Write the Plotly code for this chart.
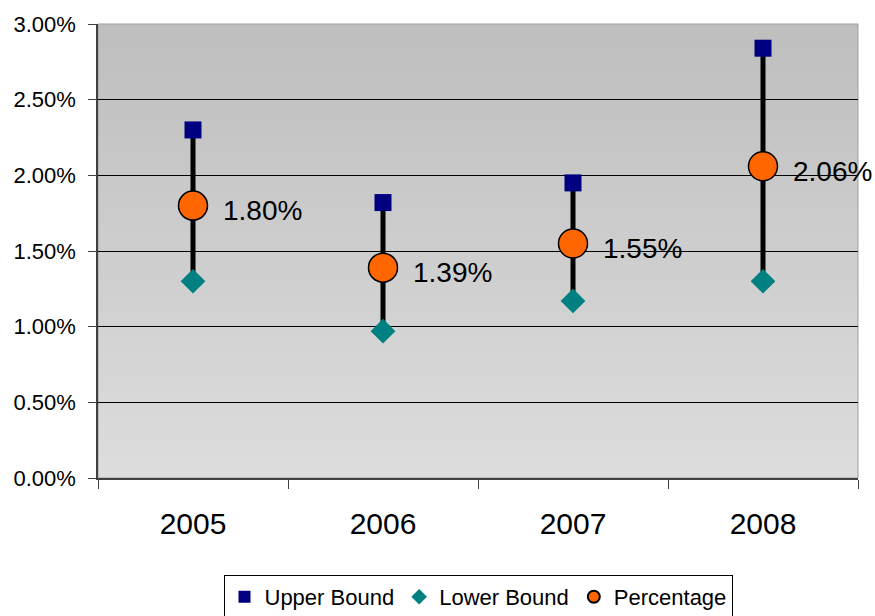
import plotly.graph_objects as go

years = ["2005", "2006", "2007", "2008"]
upper = [2.30, 1.82, 1.95, 2.84]
lower = [1.30, 0.97, 1.17, 1.30]
percentage = [1.80, 1.39, 1.55, 2.06]
y_ticks = [0, 0.5, 1.0, 1.5, 2.0, 2.5, 3.0]

FONT = "Liberation Sans, Arial, sans-serif"

fig = go.Figure()

# vertical range lines
lx, ly = [], []
for yr, lo, hi in zip(years, lower, upper):
    lx += [yr, yr, None]
    ly += [lo, hi, None]
fig.add_trace(go.Scatter(x=lx, y=ly, mode="lines", line=dict(color="black", width=5),
                         showlegend=False, hoverinfo="skip"))

fig.add_trace(go.Scatter(x=years, y=upper, mode="markers", name="Upper Bound",
                         marker=dict(symbol="square", size=17, color="#000080",
                                     line=dict(width=0))))
fig.add_trace(go.Scatter(x=years, y=lower, mode="markers", name="Lower Bound",
                         marker=dict(symbol="diamond", size=19, color="#008080",
                                     line=dict(width=0))))
fig.add_trace(go.Scatter(x=years, y=percentage, mode="markers", name="Percentage",
                         marker=dict(symbol="circle", size=29, color="#FF6600",
                                     line=dict(width=1.5, color="black"))))

for i, p in enumerate(percentage):
    fig.add_annotation(x=i, y=p, xref="x", yref="y", text=f"{p:.2f}%", showarrow=False,
                       xanchor="left", yanchor="middle", xshift=28, yshift=-5,
                       font=dict(size=28, color="black", family=FONT))

# gradient background (stacked bands, no seams)
n = 60
top = (190, 190, 190)
bot = (221, 221, 221)
for i in range(n):
    t = i / (n - 1)
    c = tuple(round(top[k] + (bot[k] - top[k]) * t) for k in range(3))
    fig.add_shape(type="rect", xref="x domain", yref="y domain",
                  x0=0, x1=1, y0=0, y1=1 - i / n,
                  fillcolor=f"rgb{c}", line=dict(width=0), layer="below")
fig.add_shape(type="rect", xref="x domain", yref="y domain", x0=0, x1=1, y0=0, y1=1,
              line=dict(color="#a0a0a0", width=1), layer="below")

fig.update_layout(
    width=875, height=616,
    margin=dict(l=98, r=17, t=20, b=138),
    paper_bgcolor="white", plot_bgcolor="rgba(0,0,0,0)",
    font=dict(family=FONT, color="black"),
    showlegend=True,
    legend=dict(orientation="h", x=0.5, xanchor="center",
                yref="container", y=0.0666, yanchor="top",
                bordercolor="black", borderwidth=1, bgcolor="white",
                font=dict(size=22, family=FONT), itemsizing="constant",
                tracegroupgap=0, itemwidth=30),
)
fig.update_xaxes(type="category", categoryorder="array", categoryarray=years,
                 range=[-0.5, 3.5], tickson="boundaries", ticks="outside", ticklen=9,
                 tickcolor="#404040", showline=True, linecolor="#404040", linewidth=1.5,
                 showgrid=False, tickfont=dict(size=30, family=FONT), zeroline=False,
                 ticklabelstandoff=18)
fig.update_yaxes(range=[0, 3], tickvals=y_ticks, ticktext=[f"{v:.2f}%" for v in y_ticks],
                 ticks="outside", ticklen=8, tickcolor="#404040", showline=True,
                 linecolor="#404040", linewidth=1.5, showgrid=True, gridcolor="black",
                 gridwidth=1, zeroline=False, tickfont=dict(size=22, family=FONT),
                 ticklabelstandoff=8)

fig.write_html("out.html", config={"displayModeBar": False},
               post_script="document.body.style.margin='0';")
